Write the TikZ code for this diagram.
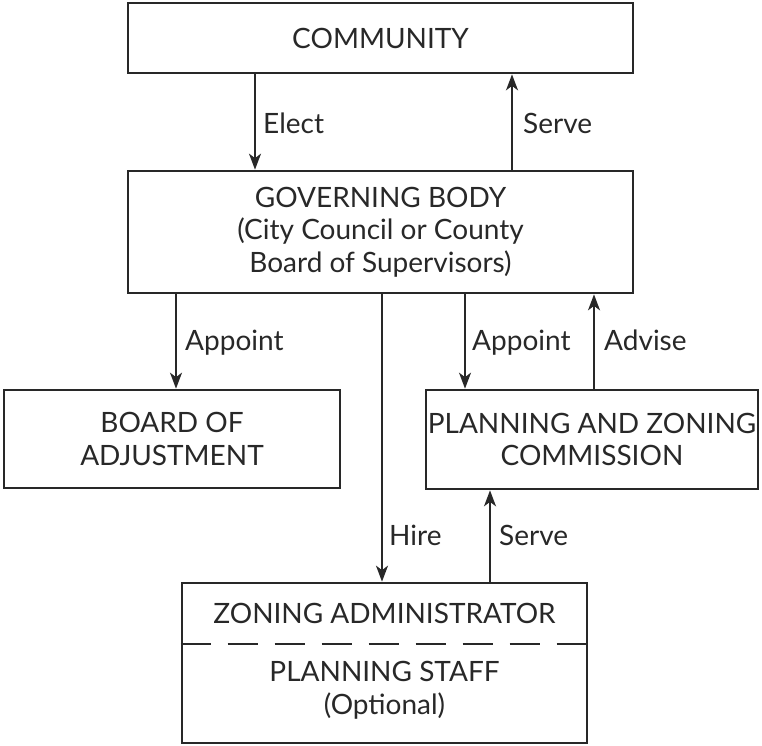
\documentclass[tikz,border=0pt]{standalone}
\usepackage{fontspec}
\setmainfont{Lato}
\usetikzlibrary{arrows.meta}
\definecolor{ink}{HTML}{282828}
\newcommand\dgmfont{\fontsize{28}{32.5}\selectfont}
\begin{document}
\begin{tikzpicture}[x=1pt,y=-1pt,
  box/.style={draw=ink, line width=2.7pt, inner sep=0pt, align=center, text=ink, font=\dgmfont},
  txt/.style={inner sep=0pt, align=center, text=ink, font=\dgmfont},
  lbl/.style={inner sep=0pt, anchor=base west, text=ink, font=\dgmfont},
  arr/.style={draw=ink, line width=1.8pt, -{Stealth[length=16pt,width=12pt,inset=4.5pt]}},
  dashline/.style={draw=ink, line width=2.7pt, dash pattern=on 30pt off 17pt}]
\useasboundingbox (0,0) rectangle (762,745);
% boxes
\node[box, minimum width=505pt, minimum height=70pt] (comm) at (380.5,38) {COMMUNITY};
\node[box, minimum width=505pt, minimum height=122pt] (gov) at (380.5,232)
  {GOVERNING BODY\\(City Council or County\\Board of Supervisors)};
\node[box, minimum width=336pt, minimum height=98pt] (board) at (172,439) {BOARD OF\\ADJUSTMENT};
\node[box, minimum width=332pt, minimum height=99pt] (plan) at (592,439.5) {PLANNING AND ZONING\\COMMISSION};
\node[box, minimum width=405pt, minimum height=160pt] (zon) at (384.5,663) {};
\node[txt] (zadm) at (384.5,613) {ZONING ADMINISTRATOR};
\node[txt] (zstaff) at (384.5,690) {PLANNING STAFF\\(Optional)};
\coordinate (zdash) at (0,644);
\draw[dashline] (zon.west |- zdash) -- (zon.east |- zdash);
% connector x positions
\coordinate (xElect) at (255,0);
\coordinate (xServeA) at (512,0);
\coordinate (xAppL) at (176,0);
\coordinate (xHire) at (382,0);
\coordinate (xAppR) at (465,0);
\coordinate (xAdv) at (594,0);
\coordinate (xServeB) at (490,0);
% connectors
\draw[arr] (comm.south -| xElect) -- (gov.north -| xElect);
\draw[arr] (gov.north -| xServeA) -- (comm.south -| xServeA);
\draw[arr] (gov.south -| xAppL) -- (board.north -| xAppL);
\draw[arr] (gov.south -| xHire) -- (zon.north -| xHire);
\draw[arr] (gov.south -| xAppR) -- (plan.north -| xAppR);
\draw[arr] (plan.north -| xAdv) -- (gov.south -| xAdv);
\draw[arr] (zon.north -| xServeB) -- (plan.south -| xServeB);
% labels
\node[lbl] (lElect) at (263,133) {Elect};
\node[lbl] (lServeA) at (523,133) {Serve};
\node[lbl] (lAppL) at (185,350) {Appoint};
\node[lbl] (lAppR) at (472,350) {Appoint};
\node[lbl] (lAdv) at (604,350) {Advise};
\node[lbl] (lHire) at (389,545) {Hire};
\node[lbl] (lServeB) at (499,545) {Serve};
\end{tikzpicture}
\end{document}
